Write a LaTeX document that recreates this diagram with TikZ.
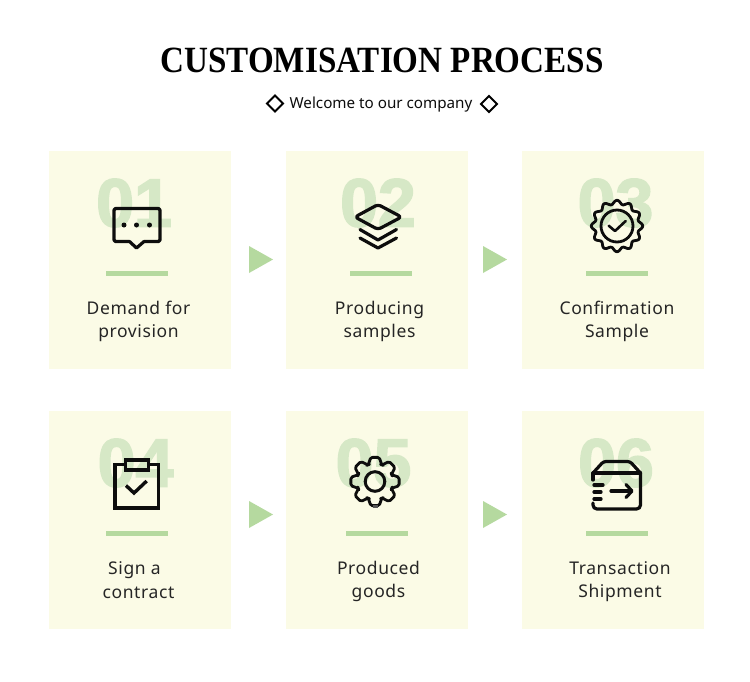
\documentclass[tikz,border=0pt]{standalone}
\usepackage{fontspec}
\setmainfont{Noto Sans}
\newfontfamily\titlefont[FakeStretch=0.895]{Liberation Serif}
\newfontfamily\numfont[BoldFeatures={FakeBold=2.5}]{Liberation Sans}
\definecolor{cardfill}{HTML}{FBFBE6}
\definecolor{accent}{HTML}{B5D99F}
\definecolor{numcol}{HTML}{D6E8C6}
\definecolor{ink}{HTML}{0D0D0D}
\tikzset{
 cardbox/.style={fill=cardfill,draw=none,minimum width=182pt,minimum height=218pt,inner sep=0pt,anchor=north west},
 barline/.style={fill=accent,draw=none},
 arrowtri/.style={fill=accent,draw=none},
 bignum/.style={inner sep=0pt,text=numcol,font=\numfont\bfseries\fontsize{68}{68}\selectfont},
 labeltext/.style={inner sep=0pt,text=ink!90,align=center,font=\fontsize{17.5}{23}\selectfont\addfontfeature{LetterSpace=3.5}},
 icon/.style={draw=ink,line width=3.2pt,line join=round,line cap=round,fill=none},
}
\begin{document}
\begin{tikzpicture}[x=1pt,y=-1pt]
\useasboundingbox[fill=white] (0,0) rectangle (750,681);
% title
\node[inner sep=0pt,text=black,font=\titlefont\bfseries\fontsize{37}{37}\selectfont] (title) at (382,60) {CUSTOMISATION PROCESS};
\node[inner sep=0pt,text=ink,font=\fontsize{15.2}{18}\selectfont] (sub) at (381,105) {Welcome to our company};
\draw[black,line width=1.8pt] (275,95.5) -- (283,103.5) -- (275,111.5) -- (267,103.5) -- cycle;
\draw[black,line width=1.8pt] (489,96) -- (497,104) -- (489,112) -- (481,104) -- cycle;
% cards
\node[cardbox] (c1) at (49,151) {};
\node[cardbox] (c2) at (286,151) {};
\node[cardbox] (c3) at (522,151) {};
\node[cardbox] (c4) at (49,411) {};
\node[cardbox] (c5) at (286,411) {};
\node[cardbox] (c6) at (522,411) {};
% numbers
\node[bignum] (n1) at (134,203) {01};
\node[bignum] (n2) at (378,203) {02};
\node[bignum] (n3) at (615.5,203) {03};
\node[bignum] (n4) at (135.5,463) {04};
\node[bignum] (n5) at (373.5,463) {05};
\node[bignum] (n6) at (616,463) {06};
% bars
\fill[barline] (106,271) rectangle (168,276);
\fill[barline] (350,271) rectangle (412,276);
\fill[barline] (586,271) rectangle (648,276);
\fill[barline] (106,531) rectangle (168,536);
\fill[barline] (346,531) rectangle (408,536);
\fill[barline] (586,531) rectangle (648,536);
% triangles
\fill[arrowtri] (249,246) -- (273,259.5) -- (249,273) -- cycle;
\fill[arrowtri] (483,246) -- (507,259.5) -- (483,273) -- cycle;
\fill[arrowtri] (249,501) -- (273,514.5) -- (249,528) -- cycle;
\fill[arrowtri] (483,501) -- (507,514.5) -- (483,528) -- cycle;
% labels
\node[labeltext] (l1) at (138.5,321.5) {Demand for\\provision};
\node[labeltext] (l2) at (379.5,321.5) {Producing\\samples};
\node[labeltext] (l3) at (617,321.5) {Confirmation\\Sample};
\node[labeltext] (l4a) at (134.5,570) {Sign a};
\node[labeltext] (l4b) at (138.5,593) {contract};
\node[labeltext] (l5) at (378.5,581.5) {Produced\\goods};
\node[labeltext] (l6) at (620,581.5) {Transaction\\Shipment};
% icon 1: chat
\draw[icon,rounded corners=1.5pt] (129.5,241.5) -- (114,241.5) -- (114,208.5) -- (160,208.5) -- (160,241.5) -- (144,241.5);
\draw[icon] (129.5,241.5) -- (136.5,248) -- (144,241.5);
\fill[ink] (124,225) circle (2.5) (136.5,225) circle (2.5) (149.5,225) circle (2.5);
% icon 2: layers
\draw[icon,rounded corners=3pt] (378,204.5) -- (401.5,217) -- (378,229.5) -- (355,217) -- cycle;
\draw[icon] (360,229.5) -- (378,240) -- (396.5,229.5);
\draw[icon] (360,238) -- (378,248) -- (396.5,238);
% icon 3: badge
\begin{scope}[shift={(617,226)}]
\draw[icon,line width=2.8pt] plot[domain=0:360,samples=145,smooth,variable=\t] (\t:{23.8+1.9*cos(12*\t)}) -- cycle;
\draw[icon,line width=2.8pt] (0,0) circle (16);
\end{scope}
\draw[icon,line width=2.6pt] (608.7,225.7) -- (615,231) -- (625.7,221);
% icon 4: clipboard
\draw[icon,line width=3.4pt,line cap=butt,line join=miter] (125,464.5) -- (115,464.5) -- (115,508) -- (158.5,508) -- (158.5,464.5) -- (149,464.5);
\draw[icon,line width=3.4pt,line join=miter] (125.5,460) rectangle (148.5,470);
\draw[icon,line width=3.4pt,line cap=butt,line join=miter] (126,485.5) -- (134,493) -- (146.7,481);
% icon 5: gear
\begin{scope}[shift={(375,481.5)}]
\draw[icon,rounded corners=1.6pt,line width=2.8pt] (-22:18) \foreach \a in {0,45,...,315} { -- (\a-10:24.5) -- (\a+10:24.5) -- (\a+22:18) -- (\a+23:18) } -- cycle;
\draw[icon,line width=3pt] (0,0) circle (9.8);
\end{scope}
\fill[ink!70] (372.5,505) rectangle (378,508);
% icon 6: box
\draw[icon,rounded corners=2.5pt] (593,473) -- (603.5,461.5) -- (630,461.5) -- (640.5,473);
\draw[icon] (593,473) -- (640.5,473);
\draw[icon,rounded corners=4pt] (640.5,473) -- (640.5,509) -- (593,509) -- (593,503);
\draw[icon] (593,473) -- (593,480);
\draw[icon] (594,485) -- (603,485);
\draw[icon] (594,492) -- (601,492);
\draw[icon] (594,499) -- (601,499);
\draw[icon] (611,491) -- (631,491);
\draw[icon] (626,484.5) -- (632,491) -- (626,497.5);
\end{tikzpicture}
\end{document}
